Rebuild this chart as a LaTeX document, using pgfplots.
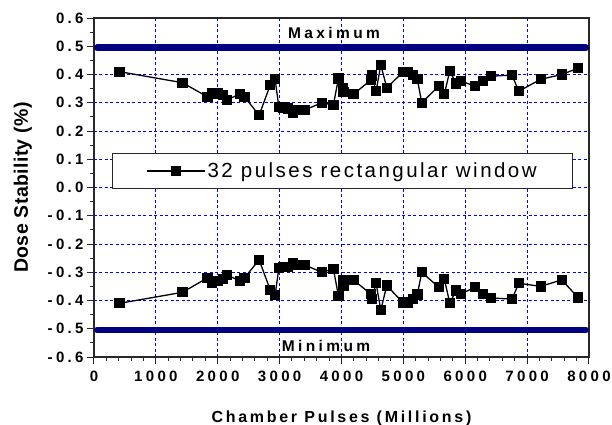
\documentclass[border=0pt]{standalone}
\usepackage{pgfplots}
\pgfplotsset{compat=1.18}
\usepackage{fontspec}
\setmainfont{Liberation Sans}
\newfontfamily\trackT[LetterSpace=22]{Liberation Sans}
\newfontfamily\trackX[LetterSpace=17]{Liberation Sans}
\newfontfamily\trackY[LetterSpace=2]{Liberation Sans}
\newfontfamily\trackL[LetterSpace=12]{Liberation Sans}
\definecolor{navyline}{RGB}{0,0,128}
\definecolor{gridblue}{RGB}{0,0,255}
\definecolor{axgray}{RGB}{40,40,40}

\pgfplotstableread{
x y
412 0.410
1430 0.371
1834 0.321
1910 0.335
2006 0.333
2082 0.327
2147 0.309
2357 0.332
2431 0.321
2669 0.256
2847 0.362
2927 0.383
2987 0.286
3061 0.283
3137 0.280
3213 0.266
3304 0.274
3401 0.274
3682 0.300
3869 0.292
3950 0.386
4021 0.351
4031 0.337
4192 0.330
4473 0.380
4490 0.396
4559 0.341
4635 0.434
4732 0.353
4990 0.408
5076 0.408
5152 0.398
5226 0.383
5297 0.300
5572 0.359
5662 0.330
5750 0.413
5851 0.368
5927 0.377
6158 0.359
6292 0.378
6417 0.394
6756 0.398
6864 0.341
7220 0.383
7559 0.400
7822 0.422
}\upperdata

\pgfplotstableread{
x y
412 -0.410
1430 -0.371
1834 -0.320
1910 -0.336
2006 -0.330
2082 -0.324
2147 -0.310
2357 -0.330
2431 -0.320
2669 -0.256
2847 -0.362
2927 -0.381
2987 -0.286
3061 -0.282
3137 -0.282
3213 -0.267
3304 -0.274
3401 -0.274
3682 -0.300
3869 -0.288
3950 -0.383
4021 -0.327
4031 -0.347
4192 -0.327
4473 -0.377
4490 -0.395
4559 -0.339
4635 -0.434
4732 -0.347
4990 -0.407
5076 -0.407
5152 -0.395
5226 -0.379
5297 -0.300
5572 -0.353
5662 -0.324
5750 -0.409
5851 -0.365
5927 -0.377
6158 -0.353
6292 -0.377
6417 -0.391
6756 -0.395
6864 -0.339
7220 -0.350
7559 -0.327
7822 -0.389
}\lowerdata

\begin{document}
\begin{tikzpicture}
\path[use as bounding box] (-94bp,-68bp) rectangle (518bp,357bp);
\begin{axis}[
  at={(0,0)}, anchor=south west,
  scale only axis, width=495bp, height=339bp,
  xmin=0, xmax=8000, ymin=-0.6, ymax=0.6,
  xtick={0,1000,2000,3000,4000,5000,6000,7000,8000},
  xticklabels={0,1000,2000,3000,4000,5000,6000,7000,8000},
  ytick={-0.6,-0.5,-0.4,-0.3,-0.2,-0.1,0,0.1,0.2,0.3,0.4,0.5,0.6},
  yticklabels={-0.6,-0.5,-0.4,-0.3,-0.2,-0.1,0.0,0.1,0.2,0.3,0.4,0.5,0.6},
  minor x tick num=4, minor y tick num=1,
  tick pos=left, tick align=outside,
  major tick length=7bp, minor tick length=4bp,
  xmajorgrids, ymajorgrids,
  major grid style={gridblue, dash pattern=on 3bp off 2.5bp, line width=0.8bp},
  axis line style={axgray, line width=1.2bp},
  every tick/.style={axgray, line width=1bp},
  ticklabel style={font=\trackT\fontsize{15bp}{16bp}\selectfont\bfseries},
  xticklabel style={yshift=-4bp},
  xlabel={Chamber Pulses (Millions)},
  ylabel={Dose Stability (\%)},
  xlabel style={font=\trackX\fontsize{16bp}{18bp}\selectfont\bfseries, at={(axis description cs:0.5,-0.18)}, anchor=center},
  ylabel style={font=\trackY\fontsize{19.5bp}{21bp}\selectfont\bfseries, at={(axis description cs:-0.144,0.5)}, anchor=center},
  legend style={at={(0.502,0.549)}, anchor=center, draw=axgray, line width=1bp, fill=white,
    inner xsep=34bp, inner ysep=7.5bp, font=\trackL\fontsize{20.5bp}{22bp}\selectfont},
  legend cell align=left,
  legend image code/.code={\draw[mark repeat=2,mark phase=2,#1] plot coordinates {(0bp,0bp) (29bp,0bp) (58bp,0bp)};},
]
\addplot[navyline, line width=6.5bp, line cap=round, forget plot] coordinates {(50,0.495) (7950,0.495)};
\addplot[navyline, line width=6.5bp, line cap=round, forget plot] coordinates {(50,-0.505) (7950,-0.505)};
\addplot[black, line width=1.3bp, mark=square*, mark size=4.5bp, mark options={solid}] table[x=x,y=y] {\upperdata};
\addlegendentry{32 pulses rectangular window}
\addplot[black, line width=1.3bp, mark=square*, mark size=4.5bp, mark options={solid}, forget plot] table[x=x,y=y] {\lowerdata};
\node[font=\trackT\fontsize{15.5bp}{16bp}\selectfont\bfseries] at (axis cs:3880,0.548) {Maximum};
\node[font=\trackT\fontsize{15.5bp}{16bp}\selectfont\bfseries] at (axis cs:3750,-0.562) {Minimum};
\end{axis}
\end{tikzpicture}
\end{document}
